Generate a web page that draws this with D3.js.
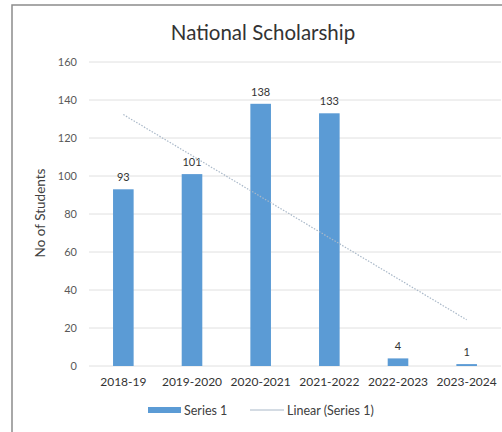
<!DOCTYPE html>
<html><head><meta charset="utf-8">
<script src="https://cdn.jsdelivr.net/npm/d3@7"></script>
<style>html,body{margin:0;padding:0;background:#fff;}svg{display:block;}</style>
</head><body>
<svg id="c" width="502" height="432"></svg>
<script>
const categories = ["2018-19","2019-2020","2020-2021","2021-2022","2022-2023","2023-2024"];
const values = [93, 101, 138, 133, 4, 1];
const yTicks = [0,20,40,60,80,100,120,140,160];
const title = "National Scholarship";
const yTitle = "No of Students";
const seriesName = "Series 1";
const trendName = "Linear (Series 1)";

const svg = d3.select("#c");
const font = "Lato, 'Open Sans', sans-serif";
const barColor = "#5b9bd5";

// chart frame
svg.append("rect").attr("x",12).attr("y",5).attr("width",520).attr("height",460)
  .attr("fill","#fff").attr("stroke","#8c8c8c").attr("stroke-width",1.5);

const x = d3.scaleBand().domain(categories).range([89, 501]).paddingInner(0.7).paddingOuter(0.35);
const y = d3.scaleLinear().domain([0,160]).range([366, 62]);

// gridlines
svg.append("g").selectAll("line").data(yTicks).join("line")
  .attr("x1",89).attr("x2",501).attr("y1",d=>y(d)).attr("y2",d=>y(d))
  .attr("stroke","#e0e0e0").attr("stroke-width",1);

// y axis labels
const yAxis = d3.axisLeft(y).tickValues(yTicks).tickSize(0).tickPadding(0);
const gy = svg.append("g").attr("transform","translate(77,0)").call(yAxis);
gy.select(".domain").remove();
gy.selectAll("text").attr("font-family",font).attr("font-size",11).attr("fill","#595959");

// x axis labels
const xAxis = d3.axisBottom(x).tickSize(0).tickPadding(0);
const gx = svg.append("g").attr("transform","translate(0,377)").call(xAxis);
gx.select(".domain").remove();
gx.selectAll("text").attr("font-family",font).attr("font-size",12).attr("fill","#333");

// bars
svg.append("g").selectAll("rect").data(values).join("rect")
  .attr("x",(d,i)=>x(categories[i]))
  .attr("width",x.bandwidth())
  .attr("y",d=>y(d))
  .attr("height",d=>y(0)-y(d))
  .attr("fill",barColor);

// data labels
svg.append("g").selectAll("text").data(values).join("text")
  .attr("x",(d,i)=>x(categories[i])+x.bandwidth()/2)
  .attr("y",d=>y(d)-8)
  .attr("text-anchor","middle")
  .attr("font-family",font).attr("font-size",11).attr("fill","#333")
  .text(d=>d);

// linear trendline (least squares over category index)
const n = values.length;
const xs = values.map((d,i)=>i+1);
const mx = d3.mean(xs), my = d3.mean(values);
const slope = d3.sum(xs.map((xi,i)=>(xi-mx)*(values[i]-my))) / d3.sum(xs.map(xi=>(xi-mx)*(xi-mx)));
const intercept = my - slope*mx;
const cx = i => x(categories[i]) + x.bandwidth()/2;
svg.append("line")
  .attr("x1",cx(0)).attr("y1",y(intercept+slope*1))
  .attr("x2",cx(n-1)).attr("y2",y(intercept+slope*n))
  .attr("stroke","#a9b8c8").attr("stroke-width",1.2).attr("stroke-dasharray","1.5,1.5");

// title
svg.append("text").attr("x",263).attr("y",40).attr("text-anchor","middle")
  .attr("font-family",font).attr("font-size",20.5).attr("fill","#333").text(title);

// y axis title
svg.append("text").attr("transform","translate(45,213) rotate(-90)")
  .attr("text-anchor","middle").attr("font-family",font).attr("font-size",13.5)
  .attr("fill","#404040").text(yTitle);

// legend
const lg = svg.append("g");
lg.append("rect").attr("x",148).attr("y",407).attr("width",33).attr("height",6).attr("fill",barColor);
lg.append("text").attr("x",184).attr("y",414.5).attr("font-family",font).attr("font-size",12.5)
  .attr("fill","#404040").text(seriesName);
lg.append("line").attr("x1",250).attr("x2",284).attr("y1",410).attr("y2",410)
  .attr("stroke","#a9b8c8").attr("stroke-width",1);
lg.append("text").attr("x",287).attr("y",414.5).attr("font-family",font).attr("font-size",12.5)
  .attr("fill","#404040").text(trendName);
</script>
</body></html>
